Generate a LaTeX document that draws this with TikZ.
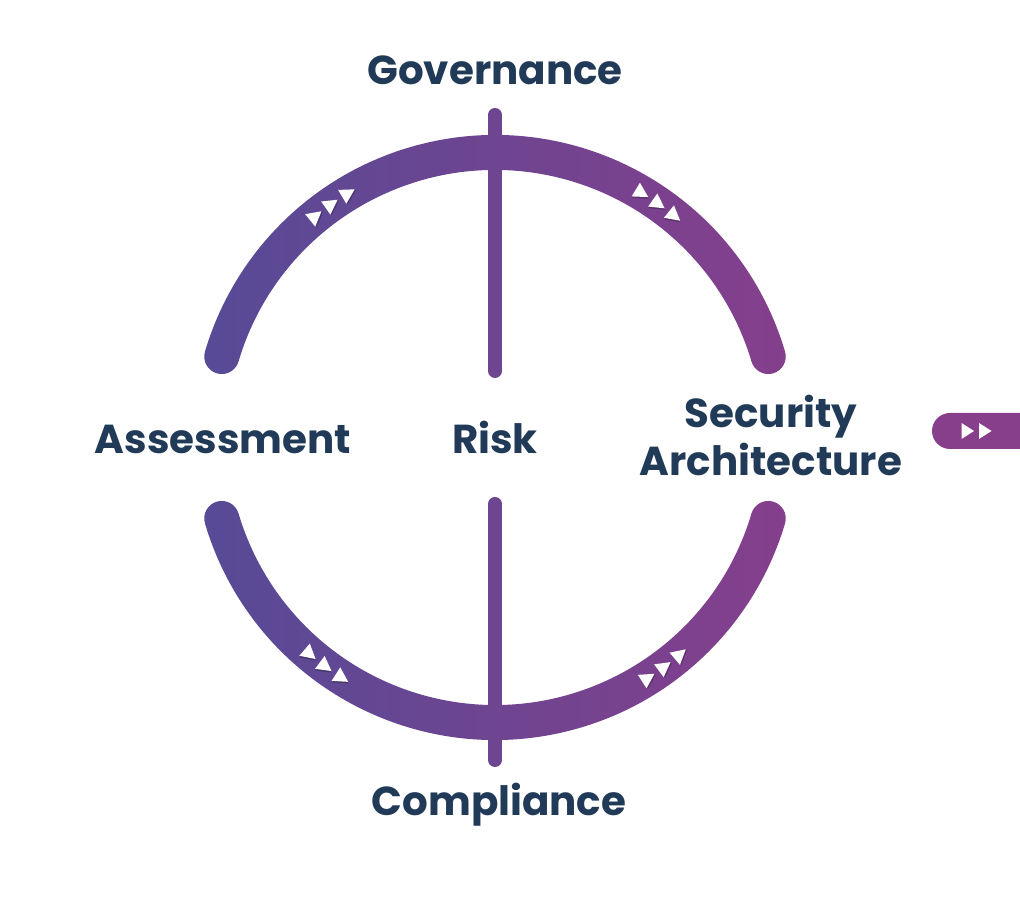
\documentclass[tikz,border=0pt]{standalone}
\usepackage{fontspec}
\setmainfont{Poppins}
\usepackage{tikz}
\usetikzlibrary{calc}

\definecolor{arcleft}{HTML}{574A96}
\definecolor{arcright}{HTML}{853F8C}
\definecolor{tabcol}{HTML}{883F8B}
\definecolor{labelcol}{HTML}{213A57}

% band of the ring between two angles, with round ends
\newcommand{\bandarc}[2]{%
    (#1:\Ro) arc[start angle=#1, end angle=#2, radius=\Ro]
    arc[start angle=#2, end angle=#2+180, radius=\hw]
    arc[start angle=#2, end angle=#1, radius=\Ri]
    arc[start angle=#1+180, end angle=#1+360, radius=\hw] -- cycle}

\tikzset{
    label/.style={font=\fontsize{11.5}{13.4}\selectfont\bfseries, text=labelcol, align=center, inner sep=0pt},
    spoke/.style={line width=0.14cm, line cap=round, color=arcleft!50!arcright},
    chevron/.pic={
        \fill[black, opacity=.25] (0.085,-0.012) -- (-0.06,0.068) -- (-0.06,-0.092) -- cycle;
        \fill[white] (0.075,0) -- (-0.07,0.08) -- (-0.07,-0.08) -- cycle;
    }
}

\begin{document}
\begin{tikzpicture}
    \def\R{2.85}
    \def\hw{0.175}
    \pgfmathsetmacro{\Ro}{\R+\hw}
    \pgfmathsetmacro{\Ri}{\R-\hw}
    \useasboundingbox (-4.95,-4.615) rectangle (5.25,4.375);
    \coordinate (O) at (0,0);

    % the two halves of the ring
    \shade[left color=arcleft, right color=arcright] \bandarc{16.5}{163.5};
    \shade[left color=arcleft, right color=arcright] \bandarc{196.5}{343.5};

    % spokes through the centre
    \coordinate (top1) at (0,3.225);
    \coordinate (top2) at (0,0.665);
    \coordinate (bot1) at (0,-0.665);
    \coordinate (bot2) at (0,-3.225);
    \draw[spoke] (top1) -- (top2);
    \draw[spoke] (bot1) -- (bot2);

    % flow marks on the ring
    \foreach \a in {121,125,129,51,55,59}
        \pic[rotate=\a-90] at (\a:\R) {chevron};
    \foreach \a in {229.5,233.5,237.5,302.5,306.5,310.5}
        \pic[rotate=\a+90] at (\a:\R) {chevron};

    % tab on the right edge
    \fill[tabcol] (5.4,0.245) -- (4.55,0.245) arc[start angle=90, end angle=270, radius=0.18] -- (5.4,-0.115) -- cycle;
    \foreach \x in {4.725,4.9}
        \fill[white] ($(\x,0.065)+(0.065,0)$) -- ($(\x,0.065)+(-0.06,0.08)$) -- ($(\x,0.065)+(-0.06,-0.08)$) -- cycle;

    \node[label] (gov) at (0,3.675) {Governance};
    \node[label] (asm) at (-2.72,-0.02) {Assessment};
    \node[label] (risk) at (0,0) {Risk};
    \node[label] (secarch) at (2.76,0.02) {Security\\Architecture};
    \node[label] (comp) at (0.04,-3.675) {Compliance};
\end{tikzpicture}
\end{document}
